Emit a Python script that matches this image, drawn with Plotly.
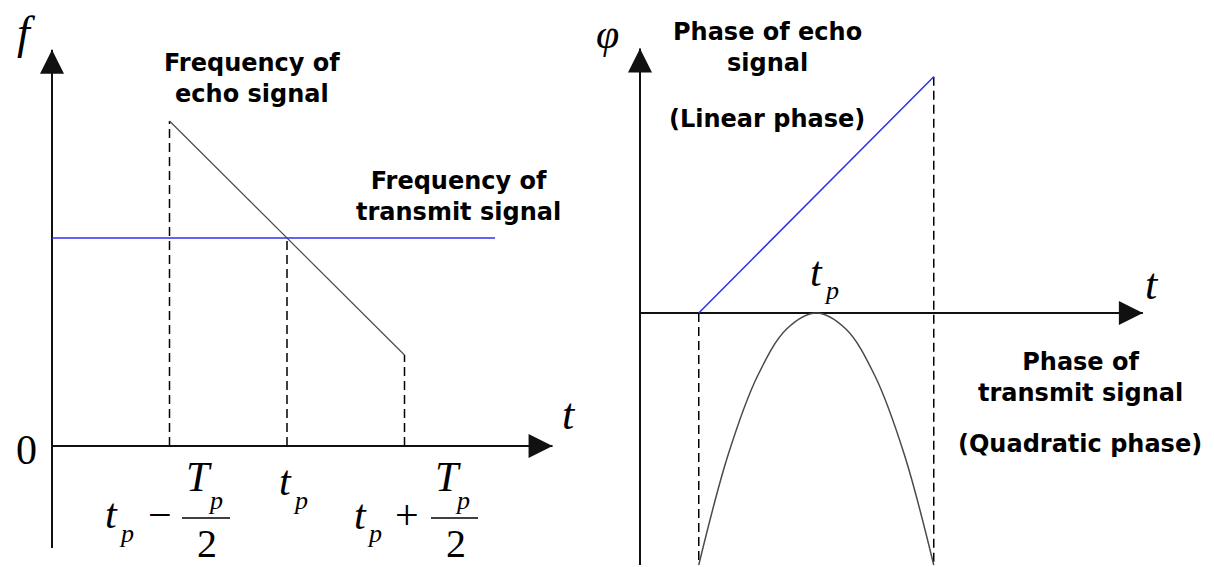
import plotly.graph_objects as go

W, H = 1214, 567

# ---- left panel: instantaneous frequency versus time ----
t_marks = [1.0, 2.0, 3.0]        # t_p - T_p/2, t_p, t_p + T_p/2
f_echo = [6.25, 4.0, 1.75]       # echo frequency at those instants
f_tx = 4.0                       # transmit frequency (constant)
t_tx = [0.0, 3.77]               # extent of the transmit-frequency line
f_axis_t = [0.0, 4.26]           # horizontal axis: origin .. arrow tip
f_axis_f = [-1.96, 7.62]         # vertical axis: bottom .. arrow tip

# ---- right panel: phase versus time ----
r_marks = [0.5, 1.5, 2.5]        # t_p - T_p/2, t_p, t_p + T_p/2
phi_echo = [0.0, 3.75]           # linear phase at start / end of pulse
t_quad = [0.5, 0.75, 1.0, 1.25, 1.5, 1.75, 2.0, 2.25, 2.5]
phi_quad = [-4.0, -2.25, -1.0, -0.25, 0.0, -0.25, -1.0, -2.25, -4.0]
p_axis_t = [0.0, 4.28]
p_axis_phi = [-4.0, 4.2]

AXIS = "#111111"
BLUE = "#2f2ff0"
GRAY = "#4a4a4a"
DASH = "9px,5px"

fig = go.Figure()


def line(xs, ys, ax, color, width, dash=None, shape="linear"):
    fig.add_trace(go.Scatter(
        x=xs, y=ys, mode="lines", xaxis=ax[0], yaxis=ax[1],
        line=dict(color=color, width=width, dash=dash, shape=shape),
        hoverinfo="skip"))


def arrow(x, y, ax, symbol):
    fig.add_trace(go.Scatter(
        x=[x], y=[y], mode="markers", xaxis=ax[0], yaxis=ax[1],
        marker=dict(symbol=symbol, size=24, color=AXIS, line=dict(width=0)),
        hoverinfo="skip"))


L = ("x", "y")
R = ("x2", "y2")

# left: axes
line(f_axis_t, [0, 0], L, AXIS, 2)
line([0, 0], f_axis_f, L, AXIS, 2)
arrow(f_axis_t[1], 0, L, "arrow-right")
arrow(0, f_axis_f[1], L, "arrow-up")
# left: drop lines
for tm, fe in zip(t_marks, f_echo):
    line([tm, tm], [0, fe], L, "#000000", 1.5, DASH)
# left: frequencies
line([t_tx[0], t_tx[1]], [f_tx, f_tx], L, BLUE, 1.6)
line(t_marks, f_echo, L, GRAY, 1.2)

# right: axes
line(p_axis_t, [0, 0], R, AXIS, 2)
line([0, 0], p_axis_phi, R, AXIS, 2)
arrow(p_axis_t[1], 0, R, "arrow-right")
arrow(0, p_axis_phi[1], R, "arrow-up")
# right: drop lines
line([r_marks[0], r_marks[0]], [0, phi_quad[0]], R, "#000000", 1.5, DASH)
line([r_marks[2], r_marks[2]], [phi_echo[1], phi_quad[-1]], R, "#000000", 1.5, DASH)
# right: phases
line([r_marks[0], r_marks[2]], phi_echo, R, BLUE, 1.5)
line(t_quad, phi_quad, R, GRAY, 1.5, shape="spline")

SANS = dict(family="DejaVu Sans", size=24, color="#000000", weight="bold")
SERIF = "Liberation Serif"


def note(text, x, y, font, xanchor="center", yanchor="middle"):
    fig.add_annotation(text=text, x=x / W, y=1 - y / H, xref="paper", yref="paper",
                       showarrow=False, font=font, xanchor=xanchor, yanchor=yanchor,
                       borderpad=0)


def math(text, x, y, size=42, italic=True, yanchor="middle"):
    note(text, x, y, dict(family=SERIF, size=size, color="#000000",
                          style="italic" if italic else "normal"),
         yanchor=yanchor)


# descriptive labels
note("Frequency of<br>echo signal", 252, 78, SANS)
note("Frequency of<br>transmit signal", 459, 196, SANS)
note("Phase of echo<br>signal", 767, 47, SANS)
note("(Linear phase)", 767, 119, SANS)
note("Phase of<br>transmit signal", 1080, 377, SANS)
note("(Quadratic phase)", 1080, 444, SANS)

# axis symbols
math("f", 26, 32, 46)
math("0", 26, 450, 42, italic=False)
math("t", 569, 414, 44)
math("φ", 607, 34, 42)
math("t", 1152, 284, 44)

# tick labels of the frequency axis
math("t", 111, 514)
math("p", 126, 533, 26)
math("−", 160, 515, 42, italic=False)
math("T", 199, 477)
math("p", 215, 500, 26)
math("2", 207, 567, 40, italic=False, yanchor="bottom")

math("t", 285, 481)
math("p", 300, 500, 26)

math("t", 360, 515)
math("p", 374, 533, 26)
math("+", 407, 515, 42, italic=False)
math("T", 448, 477)
math("p", 463, 500, 26)
math("2", 456, 567, 40, italic=False, yanchor="bottom")

# t_p above the phase-axis peak
math("t", 816, 272)
math("p", 831, 290, 26)

# fraction bars
for x0, x1 in [(182, 230), (431, 478)]:
    fig.add_shape(type="line", xref="paper", yref="paper",
                  x0=x0 / W, x1=x1 / W, y0=1 - 518 / H, y1=1 - 518 / H,
                  line=dict(color="#000000", width=1.6))

hidden = dict(visible=False, showgrid=False, zeroline=False, fixedrange=True)
fig.update_layout(
    width=W, height=H, autosize=False,
    margin=dict(l=0, r=0, t=0, b=0, pad=0),
    paper_bgcolor="#ffffff", plot_bgcolor="#ffffff",
    showlegend=False,
    xaxis=dict(hidden, domain=[0, 0.5], range=[-52 / 117.5, 555 / 117.5], anchor="y"),
    yaxis=dict(hidden, domain=[0, 1], range=[-121 / 52, 446 / 52], anchor="x"),
    xaxis2=dict(hidden, domain=[0.5, 1], range=[-33 / 117.5, 574 / 117.5], anchor="y2"),
    yaxis2=dict(hidden, domain=[0, 1], range=[-254 / 63, 313 / 63], anchor="x2"),
)

fig.write_html("out.html", config=dict(displayModeBar=False, staticPlot=True))
